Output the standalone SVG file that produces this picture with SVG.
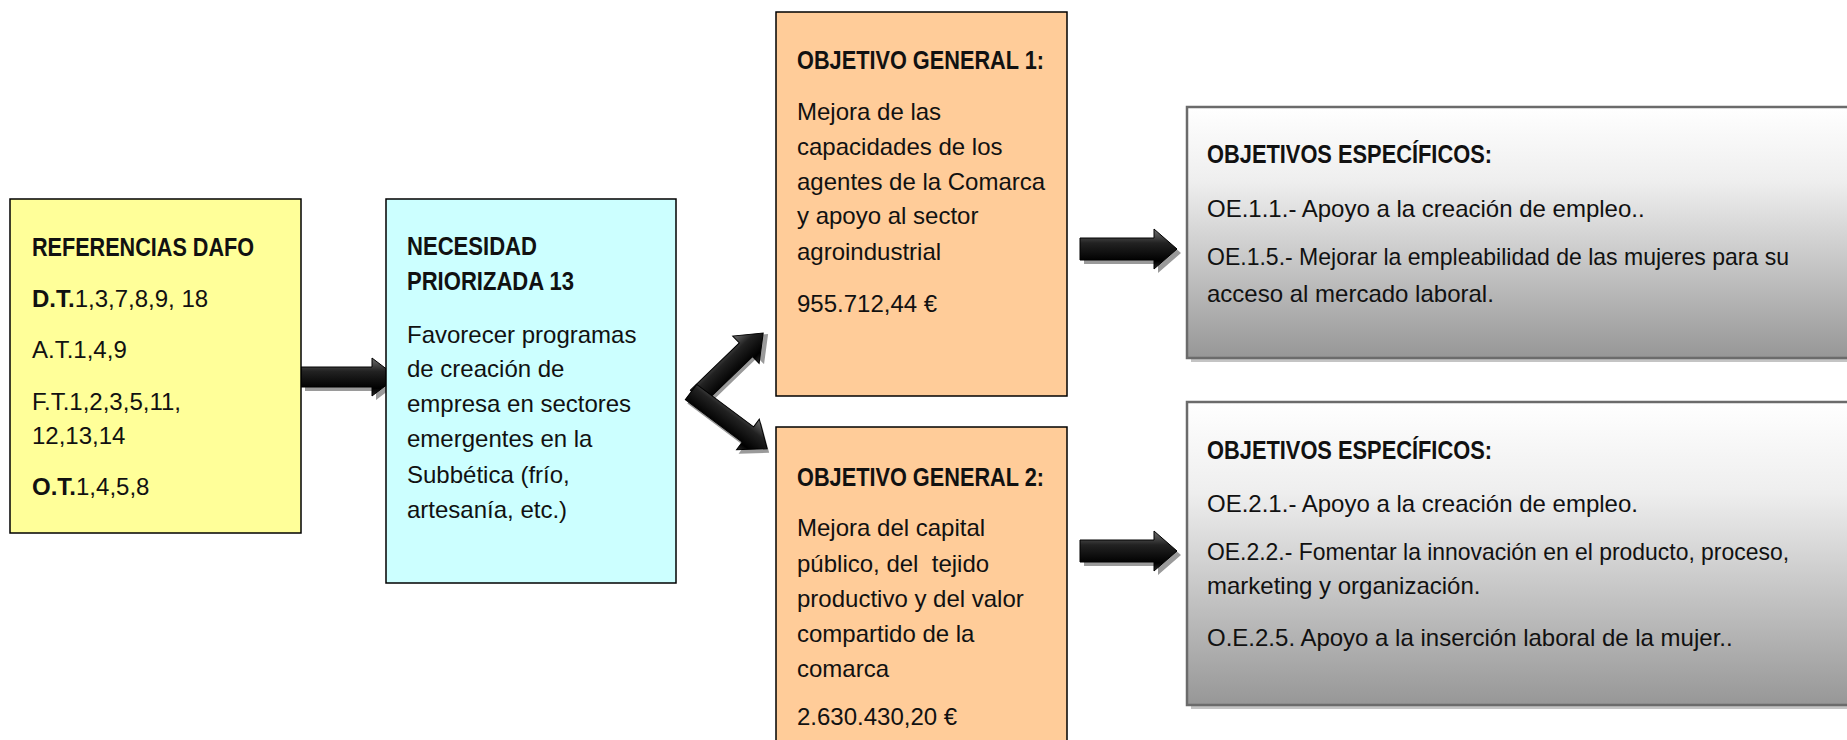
<svg xmlns="http://www.w3.org/2000/svg" width="1847" height="740" viewBox="0 0 1847 740">
<style>
  .box { stroke: #000; stroke-width: 1.5; }
  .yellow { fill: #FFFF99; }
  .cyan { fill: #CCFFFF; }
  .orange { fill: #FFCC99; }
  .spec { fill: url(#grayGrad); stroke: #6b6b6b; stroke-width: 2.5; }
  .specShadow { fill: #c4c4c4; }
  .t { font-family: "Liberation Sans", Arial, sans-serif; font-size: 24px; fill: #111; }
  .b { font-weight: bold; }
  .h { font-weight: bold; font-size: 26px; }
  .arrow { fill: url(#arrowGrad); stroke: #000; stroke-width: 1; }
  .arrowShadow { fill: #9a9a9a; }
</style>
<defs>
  <linearGradient id="grayGrad" x1="0" y1="0" x2="0" y2="1">
    <stop offset="0" stop-color="#ffffff"/>
    <stop offset="0.3" stop-color="#eeeeee"/>
    <stop offset="1" stop-color="#979797"/>
  </linearGradient>
  <linearGradient id="arrowGrad" x1="0" y1="0" x2="0" y2="1">
    <stop offset="0" stop-color="#6e6e6e"/>
    <stop offset="0.35" stop-color="#222"/>
    <stop offset="0.8" stop-color="#000"/>
    <stop offset="1" stop-color="#2a2a2a"/>
  </linearGradient>
</defs>
<rect width="1847" height="740" fill="#fff"/>

<g id="connectors">
  <g id="arrow-dafo-necesidad">
    <path class="arrowShadow" transform="translate(4,4)" d="M301,367 L372,367 L372,358 L397,377 L372,396 L372,387 L301,387 Z"/>
    <path class="arrow" d="M301,367 L372,367 L372,358 L397,377 L372,396 L372,387 L301,387 Z"/>
  </g>
  <g id="arrow-necesidad-og1" transform="translate(697,397) rotate(-44)">
    <path class="arrowShadow" transform="translate(3,4)" d="M0,-9.5 L68,-9.5 L68,-19 L92,0 L68,19 L68,9.5 L0,9.5 Z"/>
    <path class="arrow" d="M0,-9.5 L68,-9.5 L68,-19 L92,0 L68,19 L68,9.5 L0,9.5 Z"/>
  </g>
  <g id="arrow-necesidad-og2" transform="translate(691,392) rotate(36.7)">
    <path class="arrowShadow" transform="translate(4,2)" d="M0,-9.5 L71,-9.5 L71,-19 L95,0 L71,19 L71,9.5 L0,9.5 Z"/>
    <path class="arrow" d="M0,-9.5 L71,-9.5 L71,-19 L95,0 L71,19 L71,9.5 L0,9.5 Z"/>
  </g>
  <g id="arrow-og1-oe1">
    <path class="arrowShadow" transform="translate(4,4)" d="M1080,238 L1154,238 L1154,229 L1177,249 L1154,269 L1154,260 L1080,260 Z"/>
    <path class="arrow" d="M1080,238 L1154,238 L1154,229 L1177,249 L1154,269 L1154,260 L1080,260 Z"/>
  </g>
  <g id="arrow-og2-oe2">
    <path class="arrowShadow" transform="translate(4,4)" d="M1080,540 L1154,540 L1154,531 L1177,551 L1154,571 L1154,562 L1080,562 Z"/>
    <path class="arrow" d="M1080,540 L1154,540 L1154,531 L1177,551 L1154,571 L1154,562 L1080,562 Z"/>
  </g>
</g>

<g id="node-dafo">
  <rect class="box yellow" x="10" y="199" width="291" height="334"/>
  <text class="t h" x="32" y="256" textLength="222" lengthAdjust="spacingAndGlyphs">REFERENCIAS DAFO</text>
  <text class="t" x="32" y="307"><tspan class="b">D.T.</tspan>1,3,7,8,9, 18</text>
  <text class="t" x="32" y="358">A.T.1,4,9</text>
  <text class="t" x="32" y="410">F.T.1,2,3,5,11,</text>
  <text class="t" x="32" y="444">12,13,14</text>
  <text class="t" x="32" y="495"><tspan class="b">O.T.</tspan>1,4,5,8</text>
</g>

<g id="node-necesidad">
  <rect class="box cyan" x="386" y="199" width="290" height="384"/>
  <text class="t h" x="407" y="255" textLength="130" lengthAdjust="spacingAndGlyphs">NECESIDAD</text>
  <text class="t h" x="407" y="290" textLength="167" lengthAdjust="spacingAndGlyphs">PRIORIZADA 13</text>
  <text class="t" x="407" y="343">Favorecer programas</text>
  <text class="t" x="407" y="377">de creación de</text>
  <text class="t" x="407" y="412">empresa en sectores</text>
  <text class="t" x="407" y="447">emergentes en la</text>
  <text class="t" x="407" y="483">Subbética (frío,</text>
  <text class="t" x="407" y="518">artesanía, etc.)</text>
</g>

<g id="node-og1">
  <rect class="box orange" x="776" y="12" width="291" height="384"/>
  <text class="t h" x="797" y="69" textLength="247" lengthAdjust="spacingAndGlyphs">OBJETIVO GENERAL 1:</text>
  <text class="t" x="797" y="120">Mejora de las</text>
  <text class="t" x="797" y="155">capacidades de los</text>
  <text class="t" x="797" y="190">agentes de la Comarca</text>
  <text class="t" x="797" y="224">y apoyo al sector</text>
  <text class="t" x="797" y="260">agroindustrial</text>
  <text class="t" x="797" y="312">955.712,44 €</text>
</g>

<g id="node-og2">
  <rect class="box orange" x="776" y="427" width="291" height="330"/>
  <text class="t h" x="797" y="486" textLength="247" lengthAdjust="spacingAndGlyphs">OBJETIVO GENERAL 2:</text>
  <text class="t" x="797" y="536">Mejora del capital</text>
  <text class="t" x="797" y="572" xml:space="preserve">público, del  tejido</text>
  <text class="t" x="797" y="607">productivo y del valor</text>
  <text class="t" x="797" y="642">compartido de la</text>
  <text class="t" x="797" y="677">comarca</text>
  <text class="t" x="797" y="725">2.630.430,20 €</text>
</g>

<g id="node-oe1">
  <rect class="specShadow" x="1191" y="111" width="700" height="251"/>
  <rect class="spec" x="1187" y="107" width="700" height="251"/>
  <text class="t h" x="1207" y="163" textLength="285" lengthAdjust="spacingAndGlyphs">OBJETIVOS ESPECÍFICOS:</text>
  <text class="t" x="1207" y="217">OE.1.1.- Apoyo a la creación de empleo..</text>
  <text class="t" x="1207" y="265" textLength="582" lengthAdjust="spacingAndGlyphs">OE.1.5.- Mejorar la empleabilidad de las mujeres para su</text>
  <text class="t" x="1207" y="302">acceso al mercado laboral.</text>
</g>

<g id="node-oe2">
  <rect class="specShadow" x="1191" y="406" width="700" height="303"/>
  <rect class="spec" x="1187" y="402" width="700" height="303"/>
  <text class="t h" x="1207" y="459" textLength="285" lengthAdjust="spacingAndGlyphs">OBJETIVOS ESPECÍFICOS:</text>
  <text class="t" x="1207" y="512">OE.2.1.- Apoyo a la creación de empleo.</text>
  <text class="t" x="1207" y="560" textLength="582" lengthAdjust="spacingAndGlyphs">OE.2.2.- Fomentar la innovación en el producto, proceso,</text>
  <text class="t" x="1207" y="594">marketing y organización.</text>
  <text class="t" x="1207" y="646">O.E.2.5. Apoyo a la inserción laboral de la mujer..</text>
</g>
</svg>
